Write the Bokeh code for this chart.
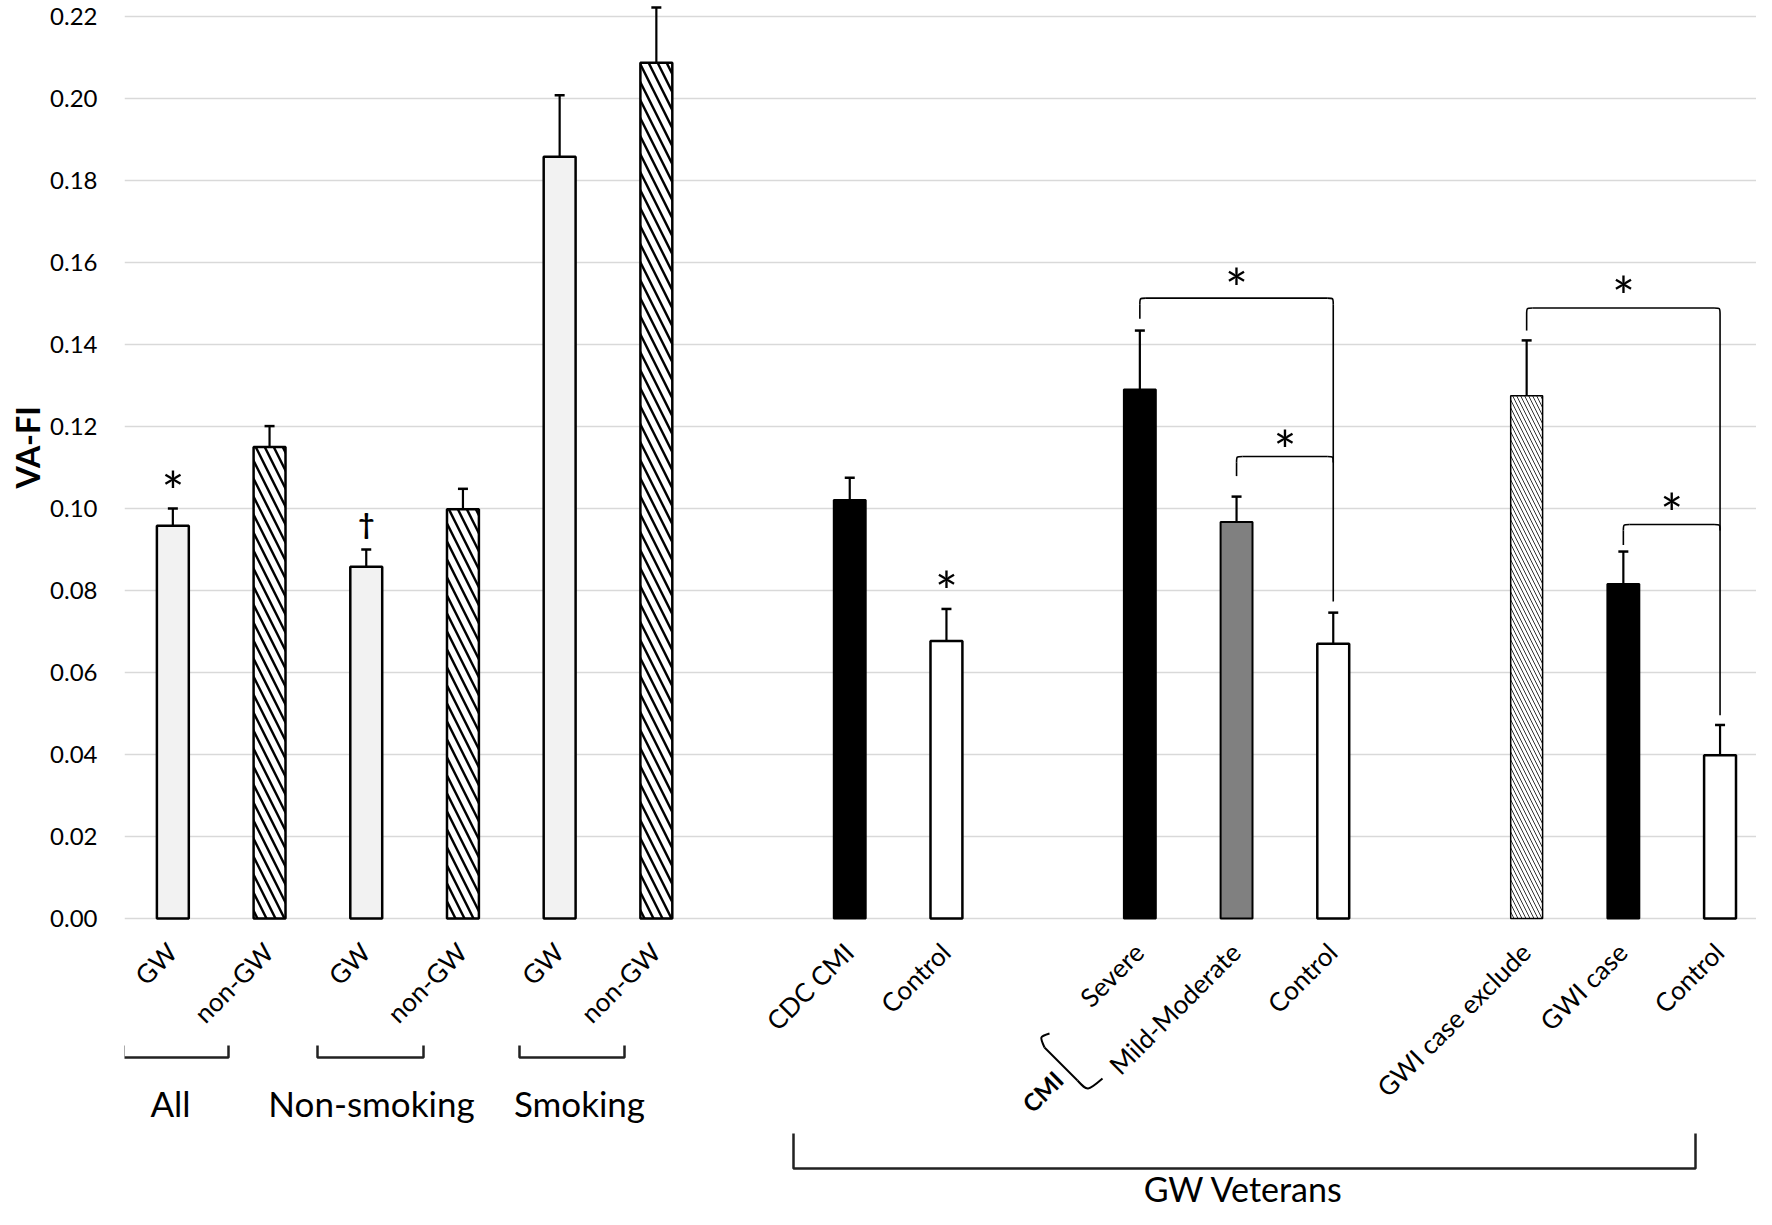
import math
from bokeh.plotting import figure
from bokeh.models import Range1d, FixedTicker, NumeralTickFormatter, Title
from bokeh.core.properties import value
from bokeh.embed import file_html
from bokeh.resources import INLINE

# ---------------- data ----------------
labels = ["GW", "non-GW", "GW", "non-GW", "GW", "non-GW", None,
          "CDC CMI", "Control", None,
          "Severe", "Mild-Moderate", "Control", None,
          "GWI case exclude", "GWI case", "Control"]
means = [0.0958, 0.1150, 0.0858, 0.0998, 0.1858, 0.2087, None,
         0.1021, 0.0677, None,
         0.1290, 0.0967, 0.0670, None,
         0.1275, 0.0816, 0.0398]
upper = [0.1000, 0.1201, 0.0900, 0.1048, 0.2008, 0.2222, None,
         0.1075, 0.0755, None,
         0.1434, 0.1029, 0.0746, None,
         0.1410, 0.0895, 0.0472]
kinds = ["gw", "hatch", "gw", "hatch", "gw", "hatch", None,
         "black", "white", None,
         "black", "gray", "white", None,
         "fine", "black", "white"]

y_ticks = [0.00, 0.02, 0.04, 0.06, 0.08, 0.10, 0.12, 0.14, 0.16, 0.18, 0.20, 0.22]
y_title = "VA-FI"

group_names = ["All", "Non-smoking", "Smoking"]
veterans_name = "GW Veterans"
cmi_name = "CMI"

# significance markers above single bars
marks_slot = [0, 2, 8, 11, 11.5, 15, 15.5]
marks_y = [0.1068, 0.0957, 0.0825, 0.1564, 0.1169, 0.1544, 0.1015]
marks_sym = ["*", "\u2020", "*", "*", "*", "*", "*"]

# comparison brackets: left slot, right slot, level, left end, right end
cmp_left = [10, 11, 14, 15]
cmp_right = [12, 12, 16, 16]
cmp_level = [0.1513, 0.1127, 0.1489, 0.0961]
cmp_left_end = [0.1463, 0.1079, 0.1434, 0.0911]
cmp_right_end = [0.0773, None, 0.0496, None]

# ---------------- layout ----------------
FONT = "Lato"
W, H = 1756, 1209
LEFT = 124
SLOT = 96.7            # px per category slot
PPU = 4100.0           # px per VA-FI unit
ZERO_PX = 918          # canvas row of 0.00
n_slots = len(labels)


def dx(px):
    return px / SLOT


def dy(px):
    return px / PPU


def X(px):   # canvas column -> data x
    return (px - LEFT) / SLOT - 0.5


def Y(py):   # canvas row -> data y
    return (ZERO_PX - py) / PPU


x_end = X(W)
y_end = Y(0)
y_start = Y(H)

p = figure(width=W, height=H, output_backend="svg", toolbar_location=None,
           x_range=Range1d(-0.5, x_end), y_range=Range1d(y_start, y_end),
           x_axis_location=None, min_border_left=LEFT, min_border_right=0,
           min_border_top=0, min_border_bottom=0, tools="")
p.outline_line_color = None
p.background_fill_color = "white"
p.border_fill_color = "white"
p.xgrid.visible = False
p.ygrid.grid_line_color = "#d9d9d9"
p.ygrid.grid_line_width = 1.6

ax = p.yaxis[0]
ax.ticker = FixedTicker(ticks=y_ticks)
ax.formatter = NumeralTickFormatter(format="0.00")
ax.axis_line_color = None
ax.major_tick_line_color = None
ax.minor_tick_line_color = None
ax.major_tick_out = 0
ax.major_tick_in = 0
ax.major_label_standoff = 27
ax.major_label_text_font = FONT
ax.major_label_text_font_size = "24px"
ax.major_label_text_color = "black"

# y title: left-side title, starting (bottom end) at canvas row 488
p.add_layout(Title(text=y_title, align="left", vertical_align="middle", offset=H - 488,
                   text_font=FONT, text_font_size="32px", text_font_style="bold",
                   text_color="black", standoff=0), "left")

STYLE = {
    "gw": dict(fill_color="#f2f2f2", line_color="black", line_width=2.5),
    "hatch": dict(fill_color="white", line_color="black", line_width=2.5,
                  hatch_pattern="\\", hatch_color="black", hatch_scale=18, hatch_weight=2.4),
    "black": dict(fill_color="black", line_color="black", line_width=2),
    "gray": dict(fill_color="#808080", line_color="black", line_width=2),
    "white": dict(fill_color="white", line_color="black", line_width=2.5),
    "fine": dict(fill_color="white", line_color="black", line_width=1.5,
                 hatch_pattern="\\", hatch_color="#333333", hatch_scale=8, hatch_weight=1),
}

slots = [i for i, m in enumerate(means) if m is not None]
for kind, st in STYLE.items():
    xs = [i for i in slots if kinds[i] == kind]
    if not xs:
        continue
    p.vbar(x=xs, top=[means[i] for i in xs], bottom=0, width=0.33, **st)

# error bars (upper only)
p.segment(x0=slots, y0=[means[i] for i in slots], x1=slots, y1=[upper[i] for i in slots],
          line_color="black", line_width=2.2)
p.scatter(x=slots, y=[upper[i] for i in slots], marker="dash", size=10,
          line_color="black", line_width=2.5)

# category labels (rotated 45 degrees, ending under each bar)
p.text(x=slots, y=[Y(947)] * len(slots), text=[labels[i] for i in slots],
       angle=math.pi / 4, text_align="right", text_baseline="middle", x_offset=-1,
       text_font=value(FONT), text_font_size="26px", text_color="black")

# star / dagger markers
for s, yv, sym in zip(marks_slot, marks_y, marks_sym):
    if sym == "*":
        p.text(x=[s], y=[yv], text=[sym], text_align="center", text_baseline="middle",
               y_offset=10, text_font=value(FONT), text_font_size="54px", text_color="black")
    else:
        p.text(x=[s], y=[yv], text=[sym], text_align="center", text_baseline="middle",
               y_offset=-3, text_font=value(FONT), text_font_size="28px",
               text_font_style="bold", text_color="black")

# comparison brackets with rounded corners
r_x, r_y = dx(6), dy(6)
for xl, xr, lvl, le, re in zip(cmp_left, cmp_right, cmp_level, cmp_left_end, cmp_right_end):
    p.line([xl, xl], [le, lvl - r_y], line_color="black", line_width=1.6)
    p.bezier(x0=[xl], y0=[lvl - r_y], x1=[xl + r_x], y1=[lvl], cx0=[xl], cy0=[lvl],
             cx1=[xl], cy1=[lvl], line_color="black", line_width=1.6)
    p.line([xl + r_x, xr - r_x], [lvl, lvl], line_color="black", line_width=1.6)
    p.bezier(x0=[xr - r_x], y0=[lvl], x1=[xr], y1=[lvl - r_y], cx0=[xr], cy0=[lvl],
             cx1=[xr], cy1=[lvl], line_color="black", line_width=1.6)
    if re is not None:
        p.line([xr, xr], [lvl - r_y, re], line_color="black", line_width=1.6)

# group brackets below the axis
grp_x0 = [X(123), X(317), X(519)]
grp_x1 = [X(228), X(423), X(624)]
grp_tx = [X(170), X(371), X(579)]
for x0, x1 in zip(grp_x0, grp_x1):
    p.line([x0, x0, x1, x1], [Y(1045), Y(1057), Y(1057), Y(1045)],
           line_color="#222222", line_width=2.5)
p.text(x=grp_tx, y=[Y(1102)] * 3, text=group_names, text_align="center",
       text_baseline="middle", text_font=value(FONT), text_font_size="35px",
       text_color="black")

# GW veterans bracket
vx0, vx1 = X(793), X(1695)
p.line([vx0, vx0, vx1, vx1], [Y(1133), Y(1168), Y(1168), Y(1133)],
       line_color="#222222", line_width=2.5)
p.text(x=[X(1243)], y=[Y(1188)], text=[veterans_name], text_align="center",
       text_baseline="middle", text_font=value(FONT), text_font_size="34px",
       text_color="black")

# CMI brace
p.bezier(x0=[X(1049)], y0=[Y(1033)], x1=[X(1044)], y1=[Y(1047)],
         cx0=[X(1039)], cy0=[Y(1036)], cx1=[X(1039)], cy1=[Y(1036)],
         line_color="black", line_width=2)
p.line([X(1044), X(1077)], [Y(1047), Y(1080)], line_color="black", line_width=2)
p.bezier(x0=[X(1077)], y0=[Y(1080)], x1=[X(1102)], y1=[Y(1078)],
         cx0=[X(1087)], cy0=[Y(1091)], cx1=[X(1087)], cy1=[Y(1091)],
         line_color="black", line_width=2)
p.text(x=[X(1042)], y=[Y(1091)], text=[cmi_name], angle=math.pi / 4, text_align="center",
       text_baseline="middle", text_font=value(FONT), text_font_size="24px",
       text_font_style="bold", text_color="black")

open("out.html", "w").write(file_html(p, INLINE))
